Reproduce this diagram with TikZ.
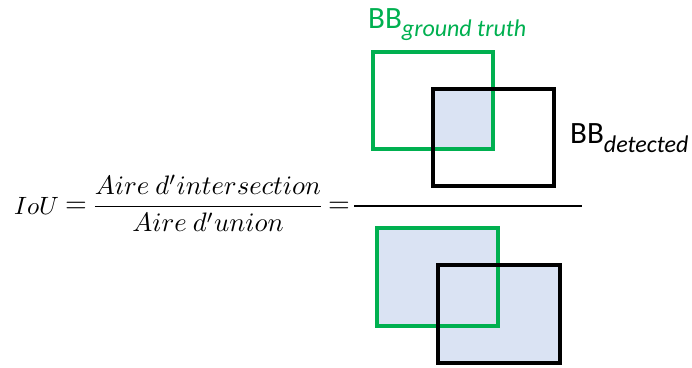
\documentclass[tikz,border=0pt]{standalone}
\usepackage{fontspec}
\setmainfont{Carlito}
\usepackage{amsmath}
\usepackage{graphicx}
\usepackage{xcolor}
\definecolor{bbgreen}{HTML}{00B050}
\definecolor{bbfill}{HTML}{DAE3F3}
\usetikzlibrary{positioning}

\begin{document}
\begin{tikzpicture}[
    x=1pt, y=-1pt,
    gtbox/.style={draw=bbgreen, line width=4pt},
    detbox/.style={draw=black, line width=4.5pt},
    area/.style={fill=bbfill},
    bblabel/.style={inner sep=0pt, anchor=base west},
    mathtext/.style={inner sep=0pt, font=\fontsize{10}{12}\selectfont},
    fracbar/.style={line width=2pt}
]
\useasboundingbox (0,0) rectangle (692,367);

% Formula
\node[mathtext, anchor=base west] (iou) at (14,214) {\scalebox{2.5}{$IoU$}};
\node[mathtext, anchor=base west] (eqA) at (65,212.5) {\scalebox{2.8}{$=$}};
\node[mathtext, anchor=base] (ratio) at (208,213)
    {\scalebox{2.67}{$\dfrac{Aire\ d'intersection}{Aire\ d'union}$}};
\node[mathtext, anchor=base west] (eqB) at (328,212.5) {\scalebox{2.8}{$=$}};
\coordinate (barL) at (354,206);
\coordinate (barR) at (582,206);
\draw[fracbar] (barL) -- (barR);

% Intersection (numerator)
\fill[area] (433,89) rectangle (493,149);
\draw[gtbox] (373,52) rectangle (493,149);
\draw[detbox] (433,89) rectangle (554,186);

% Union (denominator)
\fill[area] (377,228) rectangle (498,326);
\fill[area] (438,265) rectangle (560,363);
\draw[gtbox] (377,228) rectangle (498,326);
\draw[detbox] (438,265) rectangle (560,363);

% Labels
\node[bblabel, text=bbgreen] (gtlabel) at (368,28)
    {\fontsize{31}{31}\selectfont BB\raisebox{-8pt}{\fontsize{24}{24}\selectfont\itshape ground truth}};
\node[bblabel] (detlabel) at (570,143)
    {\fontsize{31}{31}\selectfont BB\raisebox{-9pt}{\fontsize{24}{24}\selectfont\itshape detected}};

\end{tikzpicture}
\end{document}
